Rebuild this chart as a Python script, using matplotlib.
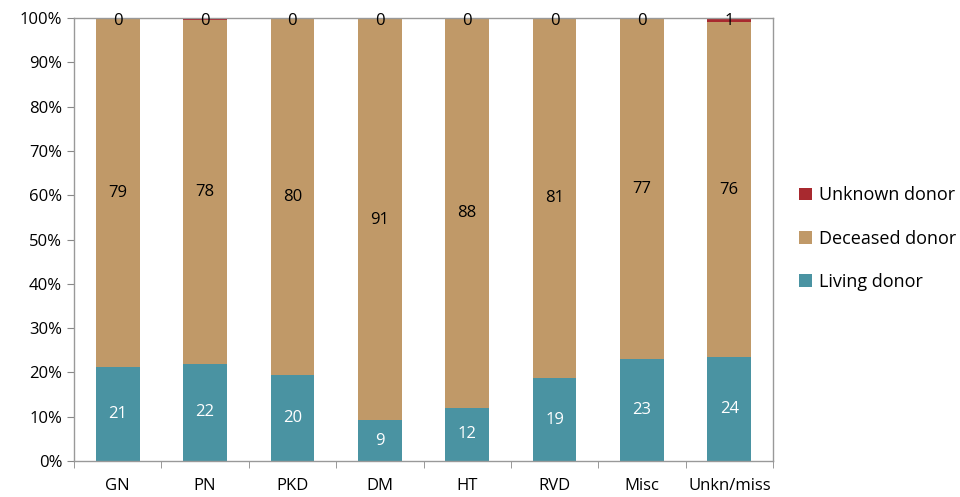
import matplotlib
matplotlib.use("Agg")
import matplotlib.pyplot as plt
import numpy as np
from matplotlib.ticker import PercentFormatter

categories = ["GN", "PN", "PKD", "DM", "HT", "RVD", "Misc", "Unkn/miss"]
living = [21.2, 22.0, 19.4, 9.2, 12.0, 18.7, 23.0, 23.4]
unknown = [0.2, 0.4, 0.2, 0.2, 0.2, 0.1, 0.2, 0.9]
deceased = [100 - l - u for l, u in zip(living, unknown)]

living_labels = [21, 22, 20, 9, 12, 19, 23, 24]
deceased_labels = [79, 78, 80, 91, 88, 81, 77, 76]
unknown_labels = [0, 0, 0, 0, 0, 0, 0, 1]

col_living = "#4A93A2"
col_deceased = "#C09968"
col_unknown = "#A8292F"

plt.rcParams["font.family"] = ["Open Sans", "DejaVu Sans"]

fig = plt.figure(figsize=(9.6, 4.97), dpi=100)
ax = fig.add_axes([74 / 960, 36 / 497, 699 / 960, 443 / 497])

x = np.arange(len(categories))
w = 0.5
ax.bar(x, living, w, color=col_living, label="Living donor")
ax.bar(x, deceased, w, bottom=living, color=col_deceased, label="Deceased donor")
bottom2 = [l + d for l, d in zip(living, deceased)]
ax.bar(x, unknown, w, bottom=bottom2, color=col_unknown, label="Unknown donor")

for i in range(len(categories)):
    ax.text(x[i], living[i] / 2, str(living_labels[i]), ha="center", va="center",
            color="white", fontsize=12)
    ax.text(x[i], living[i] + deceased[i] / 2, str(deceased_labels[i]), ha="center",
            va="center", color="black", fontsize=12)
    ax.text(x[i], 99.3, str(unknown_labels[i]), ha="center", va="center",
            color="black", fontsize=12)

ax.set_xlim(-0.5, len(categories) - 0.5)
ax.set_ylim(0, 100)
ax.set_yticks(np.arange(0, 101, 10))
ax.yaxis.set_major_formatter(PercentFormatter(decimals=0))
ax.set_xticks(x)
ax.set_xticklabels(categories)
ax.set_xticks(np.arange(-0.5, len(categories), 1), minor=True)
ax.tick_params(axis="x", which="major", length=0, pad=12, labelsize=12)
ax.tick_params(axis="x", which="minor", length=5, color="#888888")
ax.tick_params(axis="y", length=5, color="#888888", labelsize=12)

for s in ax.spines.values():
    s.set_color("#999999")
    s.set_linewidth(1)

handles, labels = ax.get_legend_handles_labels()
fig.legend(handles[::-1], labels[::-1], loc="center left",
           bbox_to_anchor=(783 / 960, 0.52), frameon=False, fontsize=13,
           handlelength=0.7, handleheight=0.7, labelspacing=1.4, handletextpad=0.4)

fig.savefig("out.png", dpi=100)
